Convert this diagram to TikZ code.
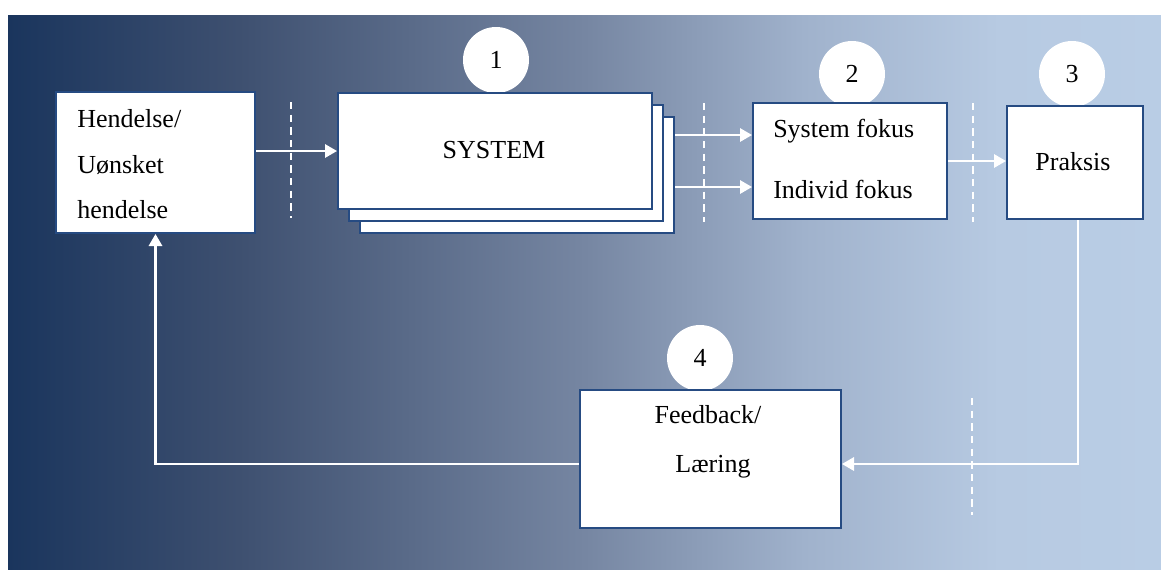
\documentclass[tikz,border=0pt]{standalone}
\usepackage{fontspec}
\setmainfont{Liberation Serif}
\usetikzlibrary{arrows.meta,calc}

\definecolor{bgA}{RGB}{26,53,93}
\definecolor{bgB}{RGB}{62,80,112}
\definecolor{bgC}{RGB}{118,134,162}
\definecolor{bgD}{RGB}{160,178,204}
\definecolor{bgE}{RGB}{183,202,226}
\definecolor{bgF}{RGB}{185,205,229}
\definecolor{frame}{RGB}{38,75,130}

% TikZ maps the path onto the 25bp--75bp band of the shading
\pgfdeclarehorizontalshading{panel}{100bp}{%
  color(0bp)=(bgA); color(25bp)=(bgA); color(35bp)=(bgB); color(50bp)=(bgC);
  color(59.5bp)=(bgD); color(68bp)=(bgE); color(75bp)=(bgF); color(100bp)=(bgF)}

\begin{document}
\begin{tikzpicture}[x=0.75pt,y=-0.75pt,
  every node/.style={font=\fontsize{19.5}{23}\selectfont, text=black, inner sep=0pt},
  card/.style={draw=frame, line width=1.5pt, fill=white, inner sep=0pt, anchor=north west},
  numdisc/.style={circle, fill=white, draw=none, inner sep=0pt, minimum size=49.5pt},
  flow/.style={draw=white, line width=1.6pt, -{Triangle[length=9pt,width=10pt]}},
  guide/.style={draw=white, line width=1.5pt, dash pattern=on 5.5pt off 4pt}]

% page and shaded panel
\useasboundingbox (0,0) rectangle (1161,569);
\fill[white] (0,0) rectangle (1161,569);
\shade[shading=panel] (8,15) rectangle (1161,569);

% dashed separators
\coordinate (d1a) at (291,102); \coordinate (d1b) at (291,218);
\coordinate (d2a) at (704,103); \coordinate (d2b) at (704,222);
\coordinate (d3a) at (973,103); \coordinate (d3b) at (973,222);
\coordinate (d4a) at (972,398); \coordinate (d4b) at (972,515);
\draw[guide] (d1a) -- (d1b);
\draw[guide] (d2a) -- (d2b);
\draw[guide] (d3a) -- (d3b);
\draw[guide] (d4a) -- (d4b);

% numbered discs
\node[numdisc] (n1) at (496,60) {1};
\node[numdisc] (n2) at (852,74) {2};
\node[numdisc] (n3) at (1072,74) {3};
\node[numdisc] (n4) at (700,358) {4};

% boxes
\node[card, minimum width=149.25pt, minimum height=105.75pt] (hend) at (55,91) {};
\node[card, minimum width=235.5pt, minimum height=87pt] (s3) at (359,116) {};
\node[card, minimum width=235.5pt, minimum height=87pt] (s2) at (348,104) {};
\node[card, minimum width=235.5pt, minimum height=87pt] (s1) at (337,92) {};
\node[card, minimum width=145.5pt, minimum height=87pt] (foc) at (752,102) {};
\node[card, minimum width=102pt, minimum height=84.75pt] (prak) at (1006,105) {};
\node[card, minimum width=195.75pt, minimum height=103.5pt] (fb) at (579,389) {};

% box texts
\node[anchor=base west] (t1) at (77,127) {Hendelse/};
\node[anchor=base west] (t2) at (77,173) {Uønsket};
\node[anchor=base west] (t3) at (77,218) {hendelse};
\node[anchor=base] (t4) at (494,158) {SYSTEM};
\node[anchor=base west] (t5) at (773,137) {System fokus};
\node[anchor=base west] (t6) at (773,198) {Individ fokus};
\node[anchor=base] (t7) at (1073,170) {Praksis};
\node[anchor=base] (t8) at (708,423) {Feedback/};
\node[anchor=base] (t9) at (713,472) {Læring};

% connectors
\coordinate (focA) at ($(foc.west)+(0,-26)$);
\coordinate (focB) at ($(foc.west)+(0,26)$);
\coordinate (fbIn) at ($(fb.east)+(0,5)$);
\coordinate (fbOut) at ($(fb.west)+(0,5)$);
\coordinate (prOut) at ($(prak.south)+(3,0)$);
\draw[flow] (hend.east |- s1.west) -- (s1.west);
\draw[flow] (s3.east |- focA) -- (focA);
\draw[flow] (s3.east |- focB) -- (focB);
\draw[flow] (foc.east) -- (foc.east -| prak.west);
\draw[flow] (prOut) |- (fbIn);
\draw[flow] (fbOut) -| (hend.south);
\end{tikzpicture}
\end{document}
